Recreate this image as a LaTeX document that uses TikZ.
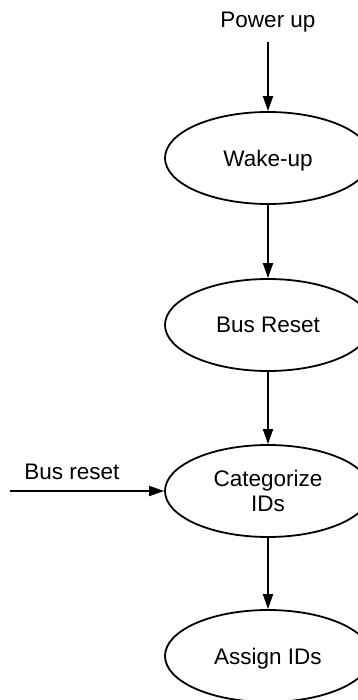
\documentclass[tikz,border=0pt]{standalone}
\usepackage{fontspec}
\setmainfont{Liberation Sans}
\usetikzlibrary{shapes.geometric,arrows.meta}
\begin{document}
\begin{tikzpicture}[x=1pt,y=-1pt,
  state/.style={draw,ellipse,line width=1.8pt,minimum width=206pt,minimum height=92pt,inner sep=0pt,align=center,font=\fontsize{22.5}{25}\selectfont},
  oneline/.style={text depth=0pt},
  lbl/.style={inner sep=0pt,font=\fontsize{22.5}{25}\selectfont},
  arr/.style={line width=1.8pt,-{Triangle[length=15pt,width=10pt]}}]
\useasboundingbox (0,0) rectangle (357,700);
\node[lbl] (pw) at (268,22) {Power up};
\coordinate (pwend) at (268,42);
\node[state,oneline] (wake) at (268,158) {Wake-up};
\node[state,oneline] (bus) at (268,325) {Bus Reset};
\node[state] (cat) at (268,491) {Categorize\\IDs};
\node[state,oneline] (asg) at (268,656) {Assign IDs};
\node[lbl] (brl) at (72,472) {Bus reset};
\coordinate (br0) at (10,491);
\draw[arr] (pwend) -- (wake);
\draw[arr] (wake) -- (bus);
\draw[arr] (bus) -- (cat);
\draw[arr] (cat) -- (asg);
\draw[arr] (br0) -- (cat);
\end{tikzpicture}
\end{document}
